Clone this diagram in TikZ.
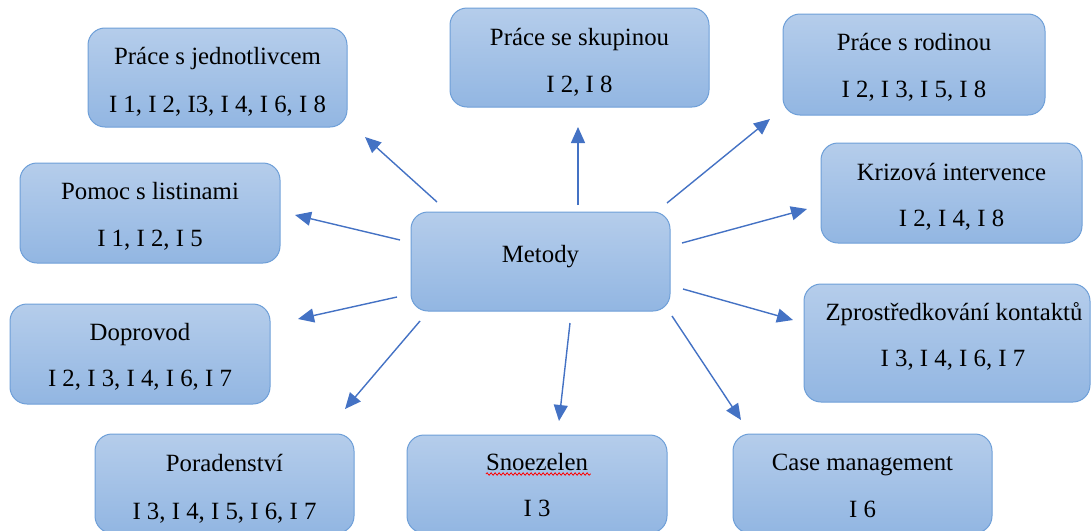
\documentclass[tikz,border=0pt]{standalone}
\usepackage{fontspec}
\setmainfont{Liberation Serif}
\usetikzlibrary{arrows.meta,decorations.pathmorphing}
\definecolor{boxtop}{HTML}{B5CDEB}
\definecolor{boxbot}{HTML}{92B6E2}
\definecolor{boxline}{HTML}{6E9FD8}
\definecolor{arr}{HTML}{4472C4}
\begin{document}
\begin{tikzpicture}[x=1pt,y=-1pt,
  box/.style={draw=boxline, line width=1pt, rounded corners=17pt, top color=boxtop, bottom color=boxbot, inner sep=0pt},
  lbl/.style={font=\fontsize{24.8}{30}\selectfont, inner sep=0pt, anchor=base},
  arrow/.style={draw=arr, line width=1.4pt, -{Triangle[length=16pt,width=14pt]}}]
\useasboundingbox (0,0) rectangle (1092,530);
\clip (0,0) rectangle (1092,530);
% boxes
\node[box, minimum width=259pt, minimum height=99pt] (j) at (217.5,77.5) {};
\node[box, minimum width=259pt, minimum height=99pt] (s) at (579.5,57.5) {};
\node[box, minimum width=262pt, minimum height=101pt] (r) at (914,64.5) {};
\node[box, minimum width=260pt, minimum height=100pt] (l) at (150,213) {};
\node[box, minimum width=259pt, minimum height=99pt] (m) at (540.5,261.5) {};
\node[box, minimum width=261pt, minimum height=100pt] (k) at (951.5,193) {};
\node[box, minimum width=260pt, minimum height=100pt] (d) at (140,354) {};
\node[box, minimum width=286pt, minimum height=118pt] (z) at (947,343) {};
\node[box, minimum width=259pt, minimum height=99pt] (p) at (224.5,483.5) {};
\node[box, minimum width=260pt, minimum height=98pt] (n) at (537,484) {};
\node[box, minimum width=259pt, minimum height=99pt] (c) at (862.5,483.5) {};
% texts
\node[lbl] (j1) at (217.5,64) {Práce s jednotlivcem};
\node[lbl] (j2) at (217.5,112) {I 1, I 2, I3, I 4, I 6, I 8};
\node[lbl] (s1) at (579.5,45) {Práce se skupinou};
\node[lbl] (s2) at (579.5,92) {I 2, I 8};
\node[lbl] (r1) at (914,50) {Práce s rodinou};
\node[lbl] (r2) at (914,97) {I 2, I 3, I 5, I 8};
\node[lbl] (l1) at (150,199) {Pomoc s listinami};
\node[lbl] (l2) at (150,246.5) {I 1, I 2, I 5};
\node[lbl] (m1) at (540.5,262) {Metody};
\node[lbl] (k1) at (951.5,180) {Krizová intervence};
\node[lbl] (k2) at (951.5,226.5) {I 2, I 4, I 8};
\node[lbl] (d1) at (140,340) {Doprovod};
\node[lbl] (d2) at (140,386.5) {I 2, I 3, I 4, I 6, I 7};
\node[lbl] (z1) at (954,320) {Zprostředkování kontaktů};
\node[lbl] (z2) at (953,366.5) {I 3, I 4, I 6, I 7};
\node[lbl] (p1) at (224.5,471) {Poradenství};
\node[lbl] (p2) at (224.5,519) {I 3, I 4, I 5, I 6, I 7};
\node[lbl] (n1) at (537,470) {Snoezelen};
\node[lbl] (n2) at (537,516.5) {I 3};
\node[lbl] (c1) at (862.5,470) {Case management};
\node[lbl] (c2) at (862.5,517) {I 6};
\draw[red, line width=0.8pt, decorate, decoration={snake, amplitude=1.2pt, segment length=4pt}] (n1.base west) ++(0,4) -- ++(105,0);
% arrow endpoints
\coordinate (aj0) at (437,202); \coordinate (aj1) at (365,137);
\coordinate (as0) at (578,205); \coordinate (as1) at (578,127);
\coordinate (ar0) at (667,203); \coordinate (ar1) at (770,119);
\coordinate (al0) at (400,240); \coordinate (al1) at (295,215);
\coordinate (ak0) at (682,243); \coordinate (ak1) at (807,209);
\coordinate (ad0) at (397,297); \coordinate (ad1) at (298,319);
\coordinate (az0) at (683,289); \coordinate (az1) at (793,320);
\coordinate (ap0) at (420,321); \coordinate (ap1) at (345,409);
\coordinate (an0) at (570,323); \coordinate (an1) at (559,421);
\coordinate (ac0) at (672,316); \coordinate (ac1) at (741,420);
\foreach \t in {j,s,r,l,k,d,z,p,n,c} \draw[arrow] (a\t0) -- (a\t1);
\end{tikzpicture}
\end{document}
